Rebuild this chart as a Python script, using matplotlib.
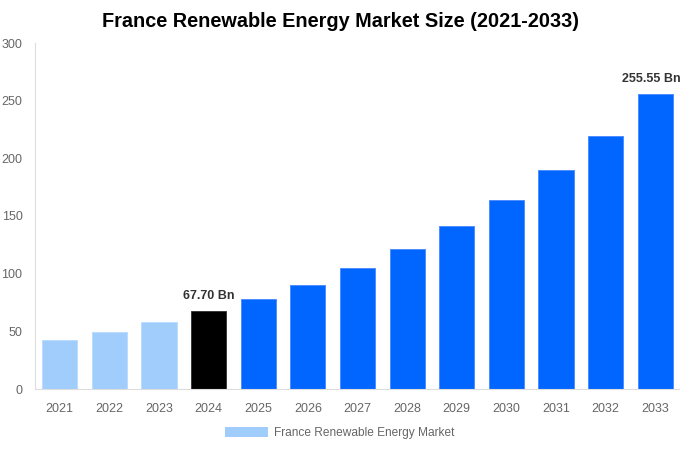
import matplotlib
matplotlib.use('Agg')
from matplotlib import pyplot as plt
from matplotlib.patches import Patch

plt.rcParams['font.family'] = ['Liberation Sans', 'DejaVu Sans']

YEARS = ['2021', '2022', '2023', '2024', '2025', '2026', '2027',
         '2028', '2029', '2030', '2031', '2032', '2033']
VALUES = [42.8, 49.5, 58.0, 67.70, 78.0, 90.5, 105.0,
          121.5, 141.0, 163.5, 189.5, 219.5, 255.55]
# which bars carry a value label
LABELLED = {'2024': '67.70 Bn', '2033': '255.55 Bn'}
LEGEND_LABEL = 'France Renewable Energy Market'
TITLE = 'France Renewable Energy Market Size (2021-2033)'

HIST_COLOR = '#a0cdfc'
BASE_COLOR = '#000000'
FORECAST_COLOR = '#0066ff'


def bar_color(year):
    y = int(year)
    if y < 2024:
        return HIST_COLOR
    if y == 2024:
        return BASE_COLOR
    return FORECAST_COLOR


fig = plt.figure(figsize=(6.8, 4.5), dpi=100)
ax = fig.add_axes([35 / 680, 61 / 450, 645 / 680, 346 / 450])

colors = [bar_color(y) for y in YEARS]
edges = ['#3a3a3a' if c == BASE_COLOR else '#bcdcff' if c == HIST_COLOR else '#4d8dff'
         for c in colors]
xs = range(len(YEARS))
ax.bar(xs, VALUES, width=0.71, color=colors, edgecolor=edges, linewidth=0.7, zorder=2)

last = len(YEARS) - 1
for i, (yr, v) in enumerate(zip(YEARS, VALUES)):
    if yr in LABELLED:
        # the last label sits against the right edge, nudge it in a touch
        dx = -0.07 if i == last else 0.0
        ax.text(i + dx, v + 8, LABELLED[yr], ha='center', va='bottom',
                fontsize=9, fontweight='bold', color='#333333', clip_on=False)

ax.set_xlim(-0.5, len(YEARS) - 0.5)
ax.set_ylim(0, 300)
ax.set_yticks(range(0, 301, 50))
ax.set_xticks(list(xs))
ax.set_xticklabels(YEARS)
ax.tick_params(axis='both', length=0, labelsize=9, colors='#666666')
ax.tick_params(axis='x', pad=10)
ax.tick_params(axis='y', pad=9)

for side in ('top', 'right'):
    ax.spines[side].set_visible(False)
ax.spines['left'].set_color('#dddddd')
ax.spines['bottom'].set_color('#dddddd')

fig.text(0.5, 0.953, TITLE, ha='center', va='center',
         fontsize=14.3, fontweight='bold', color='#000000')

fig.legend(handles=[Patch(facecolor=HIST_COLOR, edgecolor='none', label=LEGEND_LABEL)],
           loc='center', bbox_to_anchor=(0.5, 0.038), frameon=False,
           fontsize=8.6, labelcolor='#666666', handlelength=3.6, handleheight=1.0,
           handletextpad=0.5)

fig.savefig('out.png', dpi=100)
